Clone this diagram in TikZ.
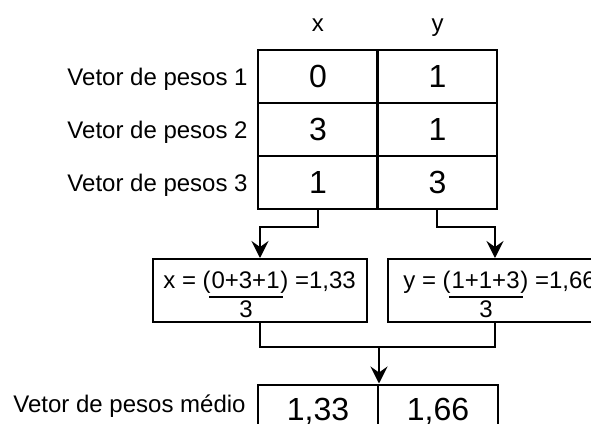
\documentclass[tikz,border=0pt]{standalone}
\usepackage{fontspec}
\setmainfont{Liberation Sans}
\usetikzlibrary{arrows.meta,calc}
\begin{document}
\begin{tikzpicture}[x=0.5pt,y=-0.5pt,
  cell/.style={draw,line width=1pt,minimum width=60pt,minimum height=26.5pt,inner sep=0pt,font=\fontsize{16}{19}\selectfont},
  lbl/.style={font=\fontsize{12}{14}\selectfont,inner sep=0pt},
  fbox/.style={draw,line width=1pt,minimum width=107pt,minimum height=31.5pt,inner sep=0pt},
  ftxt/.style={font=\fontsize{12}{14}\selectfont,inner sep=0pt,anchor=base west},
  conn/.style={line width=1pt},
  arr/.style={line width=1pt,-{Stealth[length=8.5pt,width=8.5pt,inset=3pt]}}]
\useasboundingbox (0,0) rectangle (591,424);
\clip (0,0) rectangle (591,424);
% headers
\node[lbl,anchor=base] (hx) at (318,31) {x};
\node[lbl,anchor=base] (hy) at (437.5,31) {y};
% table
\node[cell] (c11) at (318,76.5) {0};
\node[cell] (c12) at (437.5,76.5) {1};
\node[cell] (c21) at (318,129.5) {3};
\node[cell] (c22) at (437.5,129.5) {1};
\node[cell] (c31) at (318,182.5) {1};
\node[cell] (c32) at (437.5,182.5) {3};
% row labels
\node[lbl,anchor=base east] (l1) at (248,85) {Vetor de pesos 1};
\node[lbl,anchor=base east] (l2) at (248,138) {Vetor de pesos 2};
\node[lbl,anchor=base east] (l3) at (248,191) {Vetor de pesos 3};
% formula boxes
\node[fbox] (fx) at (260,290.5) {};
\node[fbox] (fy) at (495,290.5) {};
\node[ftxt] (fx1) at (163,288) {x = (};
\node[ftxt] (fx2) at (fx1.base east) {0+3+1};
\node[ftxt] (fx3) at (fx2.base east) {) =1,33};
\draw[conn] ($(fx2.south west)+(-2,8)$) coordinate (fxa) -- ($(fx2.south east)+(3,8)$) coordinate (fxb);
\node[lbl,anchor=base] (fxd) at ($(fxa)!0.5!(fxb)+(0,21)$) {3};
\node[ftxt] (fy1) at (403,288) {y = (};
\node[ftxt] (fy2) at (fy1.base east) {1+1+3};
\node[ftxt] (fy3) at (fy2.base east) {) =1,66};
\draw[conn] ($(fy2.south west)+(-2,8)$) coordinate (fya) -- ($(fy2.south east)+(3,8)$) coordinate (fyb);
\node[lbl,anchor=base] (fyd) at ($(fya)!0.5!(fyb)+(0,21)$) {3};
% connectors top
\draw[arr] (c31.south) -- ++(0,17) -| (fx.north);
\draw[arr] (c32.south) -- ++(0,17) -| (fy.north);
% bottom table
\node[cell] (m1) at (318,411) {1,33};
\node[cell] (m2) at (438,411) {1,66};
\node[lbl,anchor=base east] (lm) at (246,412) {Vetor de pesos médio};
% connectors bottom
\draw[conn] (fx.south) -- ++(0,24) coordinate (jl) -| (fy.south);
\coordinate (j) at (m1.north east |- jl);
\draw[arr] (j) -- (m1.north east);
\end{tikzpicture}
\end{document}
